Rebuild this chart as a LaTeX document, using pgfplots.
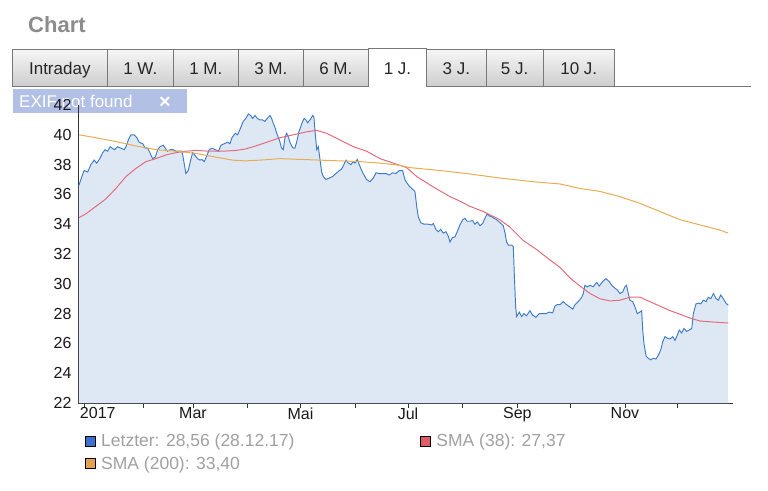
\documentclass[border=0pt]{standalone}
\usepackage{fontspec}
\setmainfont{Liberation Sans}
\usepackage{pgfplots}
\pgfplotsset{compat=1.18}
\usepackage{pgfplotstable}
\definecolor{titlegray}{RGB}{140,140,140}
\definecolor{tabtop}{RGB}{246,246,246}
\definecolor{tabbot}{RGB}{206,206,206}
\definecolor{tabborder}{RGB}{120,120,120}
\definecolor{exifblue}{RGB}{178,192,230}
\definecolor{lineblue}{RGB}{62,124,200}
\definecolor{areablue}{RGB}{222,232,245}
\definecolor{smared}{RGB}{228,108,122}
\definecolor{smaorange}{RGB}{232,172,84}
\definecolor{legblue}{RGB}{60,112,205}
\definecolor{legred}{RGB}{222,92,104}
\definecolor{legorange}{RGB}{226,162,82}
\definecolor{leggray}{RGB}{160,160,160}

\pgfplotstableread{
d v
-5.7 36.6
-4 37.2
-2.7 37.6
-0.7 37.5
1.1 38.0
3 38.3
4.4 38.1
6.2 38.4
7.8 38.8
9.2 39.0
10.6 38.9
12.1 39.2
14.4 39.0
16.3 39.2
18.2 39.1
20 39.0
21 39.2
22.5 39.7
23.8 40.0
25.7 40.0
27.2 39.8
28.5 39.5
30.5 39.4
32 39.1
33.3 39.1
34.6 38.8
36.1 38.4
37.6 38.5
39 39.0
40.3 39.2
42.1 39.3
43.3 39.1
44.6 38.9
46.1 39.0
47.8 39.0
49.3 38.9
51.2 38.9
52.8 38.9
53.7 38.3
55 37.4
56.3 37.6
57.5 38.2
58.8 38.8
60.3 38.6
61.6 38.4
63 38.3
64.1 38.35
65.4 38.2
66.9 38.6
68.2 39.0
69.8 39.1
71.6 39.0
73.5 38.9
74.9 39.3
76.7 39.4
78.7 39.5
80 39.4
81.1 39.8
83 40.1
84.3 40.0
85.8 40.4
87.5 40.9
89 41.1
90.4 41.4
91.7 41.3
92.8 41.1
94.2 41.3
95.5 41.1
97 41.0
98.5 41.0
99.8 40.9
101.1 41.1
102.7 41.3
103.6 41.1
104.5 40.8
105.5 40.5
106.5 40.1
108 39.65
109.3 39.1
110.2 39.0
111.2 39.8
112.1 40.1
113 39.9
114 39.5
115 39.25
115.9 39.1
116.8 39.1
117.8 39.5
119.1 40.2
120.2 40.55
121.2 40.9
122.1 41.1
123.1 41.0
124.1 40.8
125 40.95
126 41.1
126.9 41.3
127.6 41.2
128.2 40.3
129.2 39.0
130.1 39.2
131 38.4
132 37.5
132.9 37.2
134.4 37.0
136.3 37.1
138.2 37.2
140.1 37.4
142 37.6
143.3 37.7
144.6 38.0
145.8 38.3
147.1 38.1
148.6 38.0
149.9 38.2
150.9 38.1
152.2 38.35
153.3 38.0
154.7 37.6
156 37.3
157.5 37.0
159.4 36.85
161.3 37.1
162.8 37.45
164.7 37.4
166.6 37.4
168.5 37.4
170.3 37.3
172.2 37.45
174.1 37.4
176 37.6
177.9 37.6
179.2 37.0
180.2 36.8
181.7 36.55
184 36.3
184.9 36.2
185.9 35.2
186.8 34.5
188.2 34.1
190 34.0
192.5 34.0
194.4 33.95
195.3 34.05
196.8 33.65
198.1 33.5
199.5 33.65
201 33.4
202.5 33.5
203.8 33.2
204.8 32.8
206.1 33.1
207.6 33.15
208.9 33.5
210.4 33.95
212 34.3
213.2 34.4
214.5 34.2
216.1 34.2
217.6 34.25
218.9 34.0
220.3 34.15
221.8 33.9
223.3 34.05
224.6 34.4
225.9 34.7
227.1 34.55
228.4 34.5
229.7 34.4
231.3 34.3
232.7 34.15
234.1 34.0
235 33.9
236 33.4
236.9 32.8
237.9 32.6
239.8 32.6
240.7 32.5
241.3 30.5
242 28.5
242.6 27.8
244.1 28.1
245.4 27.8
246.7 28.0
248.2 27.85
250.1 28.2
251.6 27.9
253.5 27.75
255.4 28.0
257.3 28.0
259.2 28.0
261.1 28.1
263 28.05
264.3 28.5
265.6 28.6
267.2 28.6
269 28.8
270.9 28.6
272.8 28.45
274.4 28.3
275.7 28.6
277.5 28.8
279.5 29.1
280.4 29.35
281.3 29.9
282.6 29.8
284.2 29.9
286 29.8
288 30.1
289.4 29.85
291.4 30.15
293.2 30.35
295.1 30.15
296.5 29.9
298.4 29.7
299.6 29.6
301.2 29.35
302.7 29.45
304 29.8
304.9 29.9
305.9 29.35
306.8 28.9
308.4 28.8
309.7 28.45
311 28.0
312.5 28.1
313.5 28.2
314.1 26.9
314.8 26.0
316 25.15
317.2 25.0
318.6 24.9
320.1 25.0
321.6 24.95
322.9 25.2
324.3 25.55
325.4 26.1
326.7 26.45
328 26.35
329.6 26.3
331.1 26.45
332.4 26.2
333.7 26.55
334.8 26.9
336.2 26.7
337.5 27.0
339 26.8
340.5 26.9
341.9 27.0
342.8 28.0
344.3 28.65
345.6 28.7
347 28.65
348.5 28.9
350 28.8
351.3 29.1
352.7 29.0
354.2 29.35
355.7 29.0
357 28.9
358.3 29.25
359.8 29.0
361.3 28.7
362.6 28.56
}\lastdata

\pgfplotstableread{
d v
-5.5 34.45
-1.7 34.7
4 35.2
9.6 35.7
15.3 36.4
21 37.2
26.7 37.75
32.3 38.2
38 38.4
43.7 38.65
49.3 38.8
55 38.9
60.7 38.95
68.2 38.9
75.8 38.9
83.4 38.95
88.7 39.05
93.2 39.2
100.8 39.5
108.3 39.8
115.9 40.0
123.5 40.2
129.1 40.3
134.8 40.1
142.4 39.65
150 39.2
157.5 38.9
165.1 38.4
172.6 38.1
176.4 37.95
180.2 37.8
185.9 37.2
195.3 36.5
204.8 35.85
209.5 35.6
216.1 35.2
223.7 34.85
233.1 34.3
238.8 33.8
246.4 32.9
253.9 32.3
261.5 31.6
267.2 31.1
272.8 30.4
278.5 29.85
284.2 29.35
289.8 29.0
295.5 28.85
301.2 28.9
306.8 29.1
312.5 29.1
318.2 28.8
323.9 28.5
329.6 28.2
335.3 27.95
341 27.7
346.7 27.5
352.4 27.45
358 27.4
362.6 27.37
}\smashort

\pgfplotstableread{
d v
-5.5 40.0
4 39.8
15.3 39.55
26.7 39.25
38 39.0
49.3 38.9
60.7 38.75
72 38.5
81.5 38.3
88.7 38.25
97 38.3
108.3 38.4
119.7 38.35
131 38.3
142.4 38.25
153.7 38.2
165.1 38.1
176.4 37.95
181.7 37.8
195.3 37.65
214.2 37.4
233.1 37.1
252 36.85
267.2 36.7
278.5 36.4
289.8 36.2
301.2 35.85
312.5 35.4
323.9 34.85
335.3 34.3
346.7 33.95
358 33.6
362.6 33.4
}\smalong

\begin{document}
\begin{tikzpicture}[x=1pt,y=1pt]
\path[use as bounding box] (0,0) rectangle (768,-490);
% title
\node[anchor=base west, inner sep=0pt, text=titlegray, font=\fontsize{22}{26}\selectfont\bfseries] at (28,-32) {Chart};
% tabs
\foreach \a/\b/\t in {12.3/107.3/Intraday, 107.3/173.3/1 W., 173.3/238.3/1 M., 238.3/303.3/3 M., 303.3/368.3/6 M., 426.7/486/3 J., 486/543.3/5 J., 543.3/614.3/10 J.}{
  \shade[top color=tabtop, bottom color=tabbot] (\a,-49.5) rectangle (\b,-86);
  \draw[tabborder, line width=1pt] (\a,-49.5) rectangle (\b,-86);
  \node[anchor=base, inner sep=0pt, text=black!85, font=\fontsize{17}{20}\selectfont] at ({(\a+\b)/2},-74) {\t};
}
\fill[white] (368.3,-48.5) rectangle (426.7,-86);
\draw[tabborder, line width=1pt] (368.3,-86) -- (368.3,-48.5) -- (426.7,-48.5) -- (426.7,-86);
\node[anchor=base, inner sep=0pt, text=black!85, font=\fontsize{17}{20}\selectfont] at (397.5,-74) {1 J.};
\draw[tabborder, line width=1pt] (614.3,-86) -- (751,-86);
% EXIF overlay
\fill[exifblue] (13,-89) rectangle (187,-113);
\node[anchor=base west, inner sep=0pt, text=white, font=\fontsize{17}{20}\selectfont] at (19,-107) {EXIF not found};
\node[anchor=base west, inner sep=0pt, text=white, font=\fontsize{20}{20}\selectfont\bfseries] at (159,-108) {×};

\begin{axis}[
  at={(78pt,-403pt)}, anchor=south west,
  scale only axis, width=655pt, height=298pt,
  xmin=-6.2, xmax=365.3, ymin=22, ymax=42,
  axis x line*=bottom, axis y line*=left,
  axis line style={black!80, line width=1pt},
  /pgf/number format/assume math mode=true,
  ytick={22,24,...,42},
  ytick style={draw=none},
  yticklabel style={font=\fontsize{16}{17}\selectfont, text=black!90, xshift=2pt},
  xtick={-2.8,59,120,181,243,304},
  xticklabels={\makebox[0pt][l]{\hspace{-4pt}2017},Mar,Mai,Jul,Sep,Nov},
  minor xtick={31,90,151,212,273,334},
  tick align=outside,
  major tick length=5pt, minor tick length=5pt,
  xtick style={black!80, line width=0.8pt},
  xticklabel style={font=\fontsize{16}{17}\selectfont, text=black!90, yshift=4pt},
  clip=true,
  legend style={draw=none, fill=none, at={(axis description cs:0,0)}, anchor=north west,
    xshift=4pt, yshift=-27pt, font=\fontsize{17.5}{19}\selectfont, text=leggray,
    row sep=4pt,
    /tikz/every odd column/.append style={column sep=3pt},
    /tikz/every even column/.append style={column sep=124pt}},
  legend columns=2,
  legend cell align=left,
]
\addplot[fill=areablue, draw=none, forget plot] table[x=d,y=v]{\lastdata} \closedcycle;
\addplot[lineblue, line width=0.95pt,
  legend image code/.code={\draw[fill=legblue, draw=black, line width=1pt] (0pt,-5pt) rectangle (10pt,5pt);}]
  table[x=d,y=v]{\lastdata};
\addlegendentry{Letzter: 28,56 (28.12.17)}
\addplot[smared, line width=1pt,
  legend image code/.code={\draw[fill=legred, draw=black, line width=1pt] (0pt,-5pt) rectangle (10pt,5pt);}]
  table[x=d,y=v]{\smashort};
\addlegendentry{SMA (38): 27,37}
\addplot[smaorange, line width=1pt,
  legend image code/.code={\draw[fill=legorange, draw=black, line width=1pt] (0pt,-5pt) rectangle (10pt,5pt);}]
  table[x=d,y=v]{\smalong};
\addlegendentry{SMA (200): 33,40}
\end{axis}
\end{tikzpicture}
\end{document}
